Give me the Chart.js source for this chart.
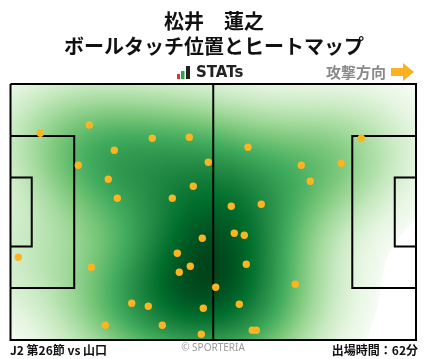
<!DOCTYPE html>
<html>
<head>
<meta charset="utf-8">
<script src="https://cdn.jsdelivr.net/npm/chart.js@4.4.1/dist/chart.umd.min.js"></script>
<style>
  html, body { margin: 0; padding: 0; background: #ffffff; }
  #wrap { width: 428px; height: 359px; position: relative; }
  canvas { display: block; }
</style>
</head>
<body>
<div id="wrap"><canvas id="chart" width="428" height="359"></canvas></div>
<script>
// Ball touch positions in pitch metres (x: 0-105 toward attack, y: 0-68 from top touchline)
const touchX = [7.72, 20.40, 36.72, 46.30, 26.88, 51.22, 17.56, 25.32, 47.33, 27.65,
                41.90, 90.84, 61.50, 75.30, 85.66, 77.63, 57.17, 64.94, 49.66, 43.19,
                46.56, 43.71, 2.02, 20.92, 53.13, 31.38, 35.68, 49.92, 24.55, 39.31,
                49.41, 57.95, 60.54, 61.06, 73.75, 59.25, 62.61, 63.65];
const touchY = [13.10, 10.89, 14.42, 14.16, 17.61, 20.80, 21.60, 25.31, 27.17, 30.36,
                30.36, 14.42, 16.81, 21.60, 21.06, 25.85, 32.49, 31.95, 40.99, 44.97,
                48.42, 50.02, 46.03, 48.69, 54.00, 58.25, 59.05, 59.58, 64.09, 64.09,
                66.49, 39.66, 40.19, 47.89, 53.20, 58.52, 65.42, 65.42];

// Pitch geometry (metres)
const pitchLength = 105;
const pitchWidth = 68;
const penaltyDepth = 16.5;
const penaltyTop = 13.84, penaltyBottom = 54.16;
const goalAreaDepth = 5.5;
const goalAreaTop = 24.84, goalAreaBottom = 43.16;

// Labels
const titleLines = ['松井　蓮之', 'ボールタッチ位置とヒートマップ'];
const brandLabel = 'STATs';
const directionLabel = '攻撃方向';
const matchLabel = 'J2 第26節 vs 山口';
const creditLabel = '© SPORTERIA';
const minutesLabel = '出場時間：62分';

// Greens colour ramp
const greens = [
  [0.000, [247, 252, 245]],
  [0.125, [229, 245, 224]],
  [0.250, [199, 233, 192]],
  [0.375, [161, 217, 155]],
  [0.500, [116, 196, 118]],
  [0.625, [65, 171, 93]],
  [0.750, [35, 139, 69]],
  [0.875, [0, 109, 44]],
  [1.000, [0, 68, 27]]
];
function rampColor(t) {
  t = Math.max(0, Math.min(1, t));
  for (let i = 1; i < greens.length; i++) {
    if (t <= greens[i][0]) {
      const [t0, c0] = greens[i - 1];
      const [t1, c1] = greens[i];
      const f = (t - t0) / (t1 - t0);
      return [0, 1, 2].map(k => Math.round(c0[k] + (c1[k] - c0[k]) * f));
    }
  }
  return greens[greens.length - 1][1];
}

const pts = touchX.map((x, i) => ({ x, y: touchY[i] }));

function line(coords) {
  return coords.map(([x, y]) => ({ x, y }));
}
const pitchLines = [
  line([[0, 0], [pitchLength, 0], [pitchLength, pitchWidth], [0, pitchWidth], [0, 0]]),
  line([[pitchLength / 2, 0], [pitchLength / 2, pitchWidth]]),
  line([[0, penaltyTop], [penaltyDepth, penaltyTop], [penaltyDepth, penaltyBottom], [0, penaltyBottom]]),
  line([[0, goalAreaTop], [goalAreaDepth, goalAreaTop], [goalAreaDepth, goalAreaBottom], [0, goalAreaBottom]]),
  line([[pitchLength, penaltyTop], [pitchLength - penaltyDepth, penaltyTop], [pitchLength - penaltyDepth, penaltyBottom], [pitchLength, penaltyBottom]]),
  line([[pitchLength, goalAreaTop], [pitchLength - goalAreaDepth, goalAreaTop], [pitchLength - goalAreaDepth, goalAreaBottom], [pitchLength, goalAreaBottom]])
];

// Kernel density heat layer under the pitch markings.
// Density below the floor (relative to the peak) is left unpainted.
const bwAdjust = 1.12;
const densityFloor = 0.035;
const toneGamma = 0.72;
const heatPlugin = {
  id: 'touchHeat',
  beforeDatasetsDraw(chart) {
    const { ctx, chartArea: a, scales: { x: sx, y: sy } } = chart;
    const n = pts.length;
    const mx = touchX.reduce((s, v) => s + v, 0) / n;
    const my = touchY.reduce((s, v) => s + v, 0) / n;
    let cxx = 0, cyy = 0, cxy = 0;
    pts.forEach(p => {
      cxx += (p.x - mx) ** 2; cyy += (p.y - my) ** 2; cxy += (p.x - mx) * (p.y - my);
    });
    cxx /= (n - 1); cyy /= (n - 1); cxy /= (n - 1);
    const f2 = Math.pow(n, -1 / 3) * bwAdjust * bwAdjust;
    const sxx = cxx * f2, syy = cyy * f2, sxy = cxy * f2;
    const det = sxx * syy - sxy * sxy;
    const ixx = syy / det, iyy = sxx / det, ixy = -sxy / det;

    const x0 = Math.floor(a.left), y0 = Math.floor(a.top);
    const w = Math.ceil(a.right) - x0, h = Math.ceil(a.bottom) - y0;
    const dens = new Float32Array(w * h);
    let dmax = 0;
    for (let j = 0; j < h; j++) {
      const vy = sy.getValueForPixel(y0 + j + 0.5);
      for (let i = 0; i < w; i++) {
        const vx = sx.getValueForPixel(x0 + i + 0.5);
        let d = 0;
        for (let k = 0; k < n; k++) {
          const dx = vx - touchX[k], dy = vy - touchY[k];
          d += Math.exp(-0.5 * (ixx * dx * dx + 2 * ixy * dx * dy + iyy * dy * dy));
        }
        dens[j * w + i] = d;
        if (d > dmax) dmax = d;
      }
    }
    const thr = dmax * densityFloor;
    const img = ctx.createImageData(w, h);
    for (let p = 0; p < w * h; p++) {
      const d = dens[p];
      let c;
      if (d < thr) c = [255, 255, 255];
      else c = rampColor(Math.pow((d - thr) / (dmax - thr), toneGamma));
      img.data[p * 4] = c[0]; img.data[p * 4 + 1] = c[1]; img.data[p * 4 + 2] = c[2]; img.data[p * 4 + 3] = 255;
    }
    const off = document.createElement('canvas');
    off.width = w; off.height = h;
    off.getContext('2d').putImageData(img, 0, 0);
    ctx.save();
    ctx.beginPath();
    ctx.rect(a.left, a.top, a.right - a.left, a.bottom - a.top);
    ctx.clip();
    ctx.drawImage(off, x0, y0);
    ctx.restore();
  }
};

// Header and footer text
const textPlugin = {
  id: 'headerFooter',
  afterDraw(chart) {
    const { ctx, width } = chart;
    ctx.save();
    ctx.fillStyle = '#111111';
    ctx.textAlign = 'center';
    ctx.textBaseline = 'middle';
    ctx.font = 'bold 20px "Noto Sans CJK JP"';
    ctx.fillText(titleLines[0], width / 2, 21);
    ctx.fillText(titleLines[1], width / 2, 46);

    // brand mark
    ctx.fillStyle = '#e8312f'; ctx.fillRect(177, 74, 3, 5);
    ctx.fillStyle = '#2aa34a'; ctx.fillRect(181, 71, 3.5, 8);
    ctx.fillStyle = '#222222'; ctx.fillRect(186, 66, 4, 13);
    ctx.fillStyle = '#222222';
    ctx.textAlign = 'left';
    ctx.font = 'bold 15px "DejaVu Sans"';
    ctx.fillText(brandLabel, 196, 73);

    // attack direction
    ctx.fillStyle = '#8a8a8a';
    ctx.font = 'bold 15px "Noto Sans CJK JP"';
    ctx.textAlign = 'right';
    ctx.fillText(directionLabel, 386, 72);
    ctx.fillStyle = '#f9b320';
    ctx.beginPath();
    ctx.moveTo(391, 68); ctx.lineTo(403, 68); ctx.lineTo(403, 63);
    ctx.lineTo(414, 72); ctx.lineTo(403, 81); ctx.lineTo(403, 76);
    ctx.lineTo(391, 76); ctx.closePath(); ctx.fill();

    // footer
    ctx.fillStyle = '#111111';
    ctx.font = 'bold 12px "Noto Sans CJK JP"';
    ctx.textAlign = 'left';
    ctx.fillText(matchLabel, 10, 350);
    ctx.textAlign = 'right';
    ctx.fillText(minutesLabel, 418, 350);
    ctx.fillStyle = '#9a9a9a';
    ctx.font = '10px "Noto Sans"';
    ctx.textAlign = 'center';
    ctx.fillText(creditLabel, 213, 348);
    ctx.restore();
  }
};

const lineSets = pitchLines.map(d => ({
  type: 'line',
  data: d,
  showLine: true,
  borderColor: '#000000',
  borderWidth: 2,
  pointRadius: 0,
  fill: false,
  tension: 0,
  order: 2,
  clip: 4
}));

new Chart(document.getElementById('chart'), {
  type: 'scatter',
  data: {
    datasets: [
      {
        data: pts,
        backgroundColor: '#fcb421',
        borderWidth: 0,
        pointRadius: 3.7,
        order: 0,
        clip: 6
      },
      ...lineSets
    ]
  },
  options: {
    responsive: false,
    animation: false,
    devicePixelRatio: 1,
    layout: { padding: { left: 10.5, top: 84, right: 12, bottom: 19 } },
    plugins: { legend: { display: false }, tooltip: { enabled: false }, title: { display: false } },
    scales: {
      x: { type: 'linear', min: 0, max: pitchLength, display: false },
      y: { type: 'linear', min: 0, max: pitchWidth, reverse: true, display: false }
    }
  },
  plugins: [heatPlugin, textPlugin]
});
</script>
</body>
</html>
